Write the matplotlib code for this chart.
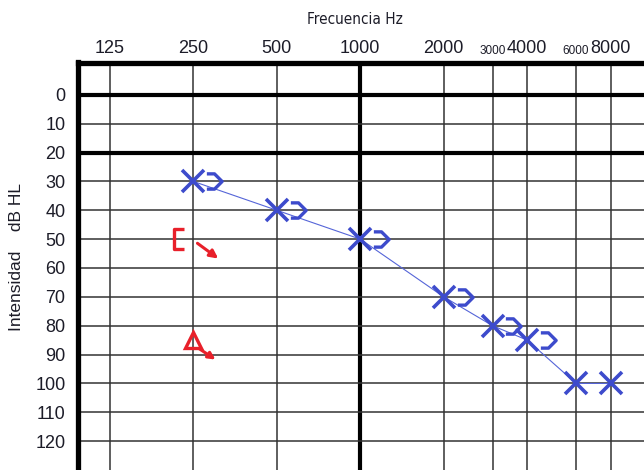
import matplotlib
matplotlib.use("Agg")
import matplotlib.pyplot as plt
import matplotlib.transforms as mtransforms
from matplotlib.markers import MarkerStyle
from matplotlib.path import Path

# audiogram data (dB HL)
freqs = [250, 500, 1000, 2000, 3000, 4000, 6000, 8000]
air_db = [30, 40, 50, 70, 80, 85, 100, 100]
bone_freqs = [250, 500, 1000, 2000, 3000, 4000]
bone_db = [30, 40, 50, 70, 80, 85]
masked_bone_freq, masked_bone_db = 250, 50
masked_air_freq, masked_air_db = 250, 85

grid_freqs = [125, 250, 500, 1000, 2000, 3000, 4000, 6000, 8000]
tick_labels = ["125", "250", "500", "1000", "2000", "3000", "4000", "6000", "8000"]
small_ticks = ["3000", "6000"]
db_ticks = list(range(0, 130, 10))

blue = "#3d4bcc"
red = "#e8202a"
grid_col = "#333333"
text_col = "#1c1c28"

plt.rcParams['font.family'] = ['Liberation Sans', 'DejaVu Sans']

fig = plt.figure(figsize=(6.44, 4.70), dpi=100)
ax = fig.add_axes([78 / 644, 0, 1 - 78 / 644, 1 - 62.5 / 470])
ax.set_xscale('log', base=2)
ax.set_xlim(96, 10545)
ax.set_ylim(130, -11.2)

# grid
for f in grid_freqs:
    lw = 3.0 if f == 1000 else 1.1
    ax.axvline(f, color="black" if f == 1000 else grid_col, lw=lw, zorder=1)
for d in db_ticks:
    lw = 3.0 if d in (0, 20) else 1.1
    ax.axhline(d, color="black" if d in (0, 20) else grid_col, lw=lw, zorder=1)

for s in ["right", "bottom"]:
    ax.spines[s].set_visible(False)
for s in ["left", "top"]:
    ax.spines[s].set_linewidth(3.8)
    ax.spines[s].set_color("black")

ax.xaxis.tick_top()
ax.set_xticks(grid_freqs)
ax.set_xticklabels(tick_labels)
ax.xaxis.set_minor_locator(plt.NullLocator())
ax.tick_params(axis='x', length=0, pad=4, labelsize=13, colors=text_col)
for lab in ax.get_xticklabels():
    if lab.get_text() in small_ticks:
        lab.set_fontsize(8.5)
ax.set_yticks(db_ticks)
ax.tick_params(axis='y', length=0, pad=9, labelsize=13, colors=text_col)

fig.text(355 / 644, 1 - 20 / 470, "Frecuencia Hz", ha="center", va="center",
         fontsize=11, family=["DejaVu Sans"], stretch="condensed", color=text_col)
fig.text(17 / 644, 1 - 257 / 470, "Intensidad    dB HL", rotation=90,
         ha="center", va="center", fontsize=12.5, color=text_col)

# air conduction
ax.plot(freqs, air_db, color="#5565d8", lw=0.8, zorder=3)
ax.plot(freqs, air_db, ls="none", marker="x", ms=15.5, mew=2.6,
        color=blue, zorder=4)

# bone conduction ">" markers (open path), shifted right of the X
bone_path = Path([(-0.5, 0.5), (0.0, 0.5), (0.5, 0.0), (0.0, -0.5), (-0.5, -0.5)],
                 [Path.MOVETO, Path.LINETO, Path.LINETO, Path.LINETO, Path.LINETO])
bone_marker = MarkerStyle(bone_path, fillstyle='none')
bone_trans = mtransforms.offset_copy(ax.transData, fig=fig, x=15, y=0, units='points')
ax.plot(bone_freqs, bone_db, ls="none", marker=bone_marker, ms=11, mew=2.4,
        color=blue, transform=bone_trans, zorder=4)

# masked bone "[" with no-response arrow
bracket_path = Path([(0.45, 1), (-0.45, 1), (-0.45, -1), (0.45, -1)],
                    [Path.MOVETO, Path.LINETO, Path.LINETO, Path.LINETO])
bracket = MarkerStyle(bracket_path, fillstyle='none')
br_trans = mtransforms.offset_copy(ax.transData, fig=fig, x=-10, y=0, units='points')
ax.plot([masked_bone_freq], [masked_bone_db], ls="none", marker=bracket, ms=15,
        mew=2.4, color=red, transform=br_trans, zorder=4)
tail = mtransforms.offset_copy(ax.transData, fig=fig, x=3, y=-3, units='points')
head = mtransforms.offset_copy(ax.transData, fig=fig, x=18, y=-14, units='points')
ax.annotate("", xy=(masked_bone_freq, masked_bone_db), xycoords=head,
            xytext=(masked_bone_freq, masked_bone_db), textcoords=tail,
            arrowprops=dict(arrowstyle="-|>", color=red, lw=2.2, mutation_scale=12,
                            shrinkA=0, shrinkB=0), zorder=4)

# masked air triangle with no-response arrow
ax.plot([masked_air_freq], [masked_air_db], ls="none", marker="^", ms=12, mew=2.4,
        mfc="none", mec=red, zorder=4)
tail2 = mtransforms.offset_copy(ax.transData, fig=fig, x=4, y=-6, units='points')
head2 = mtransforms.offset_copy(ax.transData, fig=fig, x=16, y=-14, units='points')
ax.annotate("", xy=(masked_air_freq, masked_air_db), xycoords=head2,
            xytext=(masked_air_freq, masked_air_db), textcoords=tail2,
            arrowprops=dict(arrowstyle="-|>", color=red, lw=2.2, mutation_scale=10,
                            shrinkA=0, shrinkB=0), zorder=4)

fig.savefig("out.png", dpi=100)
